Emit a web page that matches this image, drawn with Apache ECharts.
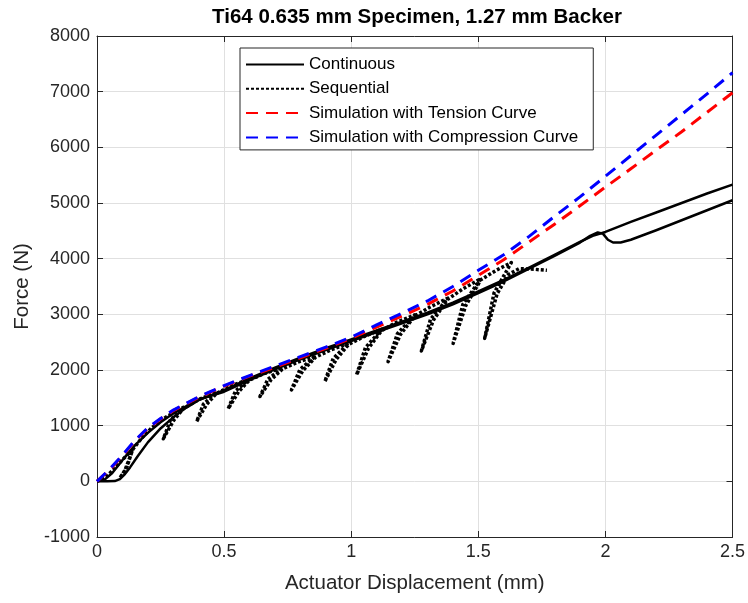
<!DOCTYPE html>
<html><head><meta charset="utf-8">
<script src="https://cdn.jsdelivr.net/npm/echarts@6/dist/echarts.min.js"></script>
<style>html,body{margin:0;padding:0;background:#fff}#c{width:748px;height:603px}</style>
</head><body><div id="c"></div>
<script>
// ---- data ----
const title = 'Ti64 0.635 mm Specimen, 1.27 mm Backer';
const xName = 'Actuator Displacement (mm)';
const yName = 'Force (N)';
const legendNames = ['Continuous', 'Sequential', 'Simulation with Tension Curve', 'Simulation with Compression Curve'];

const contAX = [0,0.04,0.07,0.09,0.11,0.13,0.16,0.2,0.25,0.3,0.35,0.4,0.5,0.6,0.7,0.8,0.9,1.0,1.1,1.2,1.3,1.4,1.5,1.6,1.7,1.8,1.9,1.95,2.0,2.1,2.2,2.3,2.4,2.5];
const contAY = [0,0,5,40,130,250,450,700,950,1150,1320,1460,1640,1850,2040,2220,2390,2550,2710,2870,3030,3210,3410,3620,3840,4070,4300,4410,4480,4660,4830,5000,5170,5330];

const contBX = [0,0.03,0.06,0.1,0.15,0.2,0.25,0.3,0.4,0.5,0.6,0.7,0.8,0.9,1.0,1.1,1.2,1.3,1.4,1.5,1.6,1.7,1.8,1.9,1.94,1.97,1.99,2.01,2.03,2.06,2.1,2.2,2.3,2.4,2.5];
const contBY = [0,30,150,380,650,870,1060,1220,1470,1610,1820,2010,2190,2360,2520,2680,2840,3000,3180,3380,3590,3820,4050,4290,4410,4470,4450,4340,4290,4290,4340,4510,4690,4870,5050];

const seqX = [0,0.03,0.06,0.09,0.12,0.14,0.11,0.09,0.115,0.14,0.18,0.22,0.27,0.34,
  0.289,0.261,0.301,0.34,0.40,0.47,
  0.419,0.392,0.431,0.47,0.53,0.60,
  0.545,0.516,0.557,0.60,0.66,0.73,
  0.672,0.641,0.684,0.73,0.79,0.86,
  0.798,0.765,0.810,0.86,0.92,0.99,
  0.929,0.896,0.941,0.99,1.05,1.12,
  1.056,1.021,1.068,1.12,1.18,1.25,
  1.182,1.145,1.194,1.25,1.31,1.38,
  1.312,1.276,1.324,1.38,1.44,1.51,
  1.439,1.401,1.451,1.51,1.57,1.63,
  1.562,1.525,1.574,1.62,1.66,1.72,1.77];
const seqY = [0,60,190,340,480,560,200,60,220,570,800,980,1150,1330,
  1104,765,1090,1310,1470,1600,
  1390,1075,1380,1580,1720,1840,
  1625,1303,1610,1820,1940,2040,
  1833,1523,1820,2020,2140,2250,
  2007,1643,1990,2230,2360,2480,
  2205,1792,2190,2460,2600,2730,
  2403,1912,2390,2710,2860,2990,
  2654,2150,2640,2970,3130,3290,
  2911,2342,2900,3270,3460,3640,
  3175,2478,3160,3620,3790,3930,
  3385,2568,3370,3720,3820,3810,3790];

const simX = [0,0.05,0.1,0.15,0.2,0.25,0.3,0.4,0.5,0.6,0.7,0.8,0.9,1.0,1.1,1.2,1.3,1.4,1.5,1.6,1.7,1.8,1.9,2.0,2.1,2.2,2.3,2.4,2.5];
const tensionY = [0,210,460,730,950,1120,1270,1510,1710,1890,2050,2220,2390,2570,2770,2970,3180,3420,3700,3980,4300,4620,4950,5285,5615,5950,6280,6630,6980];
const compressionY = [0,220,470,740,960,1130,1280,1520,1720,1900,2070,2240,2410,2590,2810,3020,3240,3500,3790,4070,4400,4760,5110,5480,5850,6220,6590,6960,7340];

const xTicks = {min:0, max:2.5, interval:0.5};
const yTicks = {min:-1000, max:8000, interval:1000};

// ---- chart ----
const zip = (a, b) => a.map((v, i) => [v, b[i]]);
const FONT = '"Liberation Sans", Arial, sans-serif';
const AX = '#262626';
const chart = echarts.init(document.getElementById('c'), null, {renderer:'canvas'});

function lineSeries(name, xs, ys, color, width, type, z) {
  return {
    name, type:'line', data: zip(xs, ys), symbol:'none', showSymbol:false,
    color, itemStyle:{color}, z,
    lineStyle:{color, width, type, cap:'butt', join:'round'},
    emphasis:{disabled:true}, silent:true
  };
}

const option = {
  animation:false,
  backgroundColor:'#fff',
  textStyle:{fontFamily:FONT},
  grid:{left:97, right:15, top:36, bottom:66},
  graphic:[{type:'text', x:417, y:7, style:{text:title, fontFamily:FONT, fontSize:20.5, fontWeight:'bold', fill:'#000', textAlign:'center', textVerticalAlign:'top'}}],
  xAxis:[{
    type:'value', min:xTicks.min, max:xTicks.max, interval:xTicks.interval,
    name:xName, nameLocation:'middle', nameGap:36,
    nameTextStyle:{fontFamily:FONT, fontSize:20.5, color:AX},
    axisLine:{onZero:false, lineStyle:{color:AX, width:1}},
    axisTick:{inside:true, length:6, lineStyle:{color:AX}},
    axisLabel:{color:AX, fontSize:18, margin:6, fontFamily:FONT, formatter:v => String(v)},
    splitLine:{show:true, lineStyle:{color:'#e0e0e0', width:1}}
  },{
    type:'value', position:'top', min:xTicks.min, max:xTicks.max, interval:xTicks.interval,
    axisLine:{onZero:false, lineStyle:{color:AX, width:1}},
    axisTick:{inside:true, length:6, lineStyle:{color:AX}},
    axisLabel:{show:false}, splitLine:{show:false}
  }],
  yAxis:[{
    type:'value', min:yTicks.min, max:yTicks.max, interval:yTicks.interval,
    name:yName, nameLocation:'middle', nameGap:63,
    nameTextStyle:{fontFamily:FONT, fontSize:20.5, color:AX},
    axisLine:{show:true, onZero:false, lineStyle:{color:AX, width:1}},
    axisTick:{show:true, inside:true, length:6, lineStyle:{color:AX}},
    axisLabel:{color:AX, fontSize:18, margin:7, fontFamily:FONT, formatter:v => String(v)},
    splitLine:{show:true, lineStyle:{color:'#e0e0e0', width:1}}
  },{
    type:'value', position:'right', min:yTicks.min, max:yTicks.max, interval:yTicks.interval,
    axisLine:{show:true, onZero:false, lineStyle:{color:AX, width:1}},
    axisTick:{show:true, inside:true, length:6, lineStyle:{color:AX}},
    axisLabel:{show:false}, splitLine:{show:false}
  }],
  legend:{
    orient:'vertical', left:240, top:48, padding:[8,15,4,5],
    itemWidth:58, itemHeight:14, itemGap:7.3,
    borderColor:AX, borderWidth:1, backgroundColor:'#fff',
    itemStyle:{opacity:0},
    textStyle:{fontSize:17, color:'#000', fontFamily:FONT},
    data:legendNames, selectedMode:false, z:20
  },
  series:[
    lineSeries(legendNames[0], contAX, contAY, '#000', 2.5, 'solid', 2),
    lineSeries(legendNames[0], contBX, contBY, '#000', 2.5, 'solid', 2),
    lineSeries(legendNames[1], seqX, seqY, '#000', 3.5, [3,2], 3),
    lineSeries(legendNames[2], simX, tensionY, '#ff0000', 3, [12,8], 4),
    lineSeries(legendNames[3], simX, compressionY, '#0000ff', 3, [12,8], 5)
  ]
};
chart.setOption(option);
</script>
</body></html>
